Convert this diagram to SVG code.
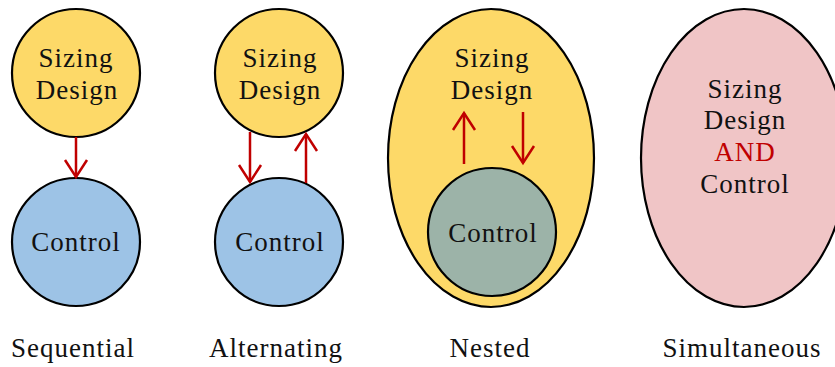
<svg xmlns="http://www.w3.org/2000/svg" width="835" height="367" viewBox="0 0 835 367">
<style>
.n{stroke:#000;stroke-width:2.2}
.y{fill:#FDD968}.b{fill:#9DC3E6}.g{fill:#9CB3A8}.p{fill:#F0C5C6}
.t{font-family:"Liberation Serif","Times New Roman",serif;font-size:27px;letter-spacing:1px;fill:#111;text-anchor:middle}
.r{fill:#C00000}
.a{stroke:#C00000;stroke-width:2.5;fill:none}
</style>
<defs>
<marker id="h" markerUnits="userSpaceOnUse" markerWidth="30" markerHeight="30" refX="18" refY="12" orient="auto" viewBox="0 0 30 24">
<path d="M1,1 L18,12 L1,23" fill="none" stroke="#C00000" stroke-width="2.5"/>
</marker>
</defs>
<g id="seq-sizing"><circle class="n y" cx="76" cy="73" r="64"/><text class="t" x="76" y="67">Sizing</text><text class="t" x="77" y="99">Design</text></g>
<g id="seq-control"><circle class="n b" cx="76" cy="242" r="64"/><text class="t" x="76" y="251">Control</text></g>
<g id="alt-sizing"><circle class="n y" cx="279" cy="73" r="64"/><text class="t" x="280" y="67">Sizing</text><text class="t" x="280" y="99">Design</text></g>
<g id="alt-control"><circle class="n b" cx="279" cy="242" r="64"/><text class="t" x="280" y="251">Control</text></g>
<g id="nested-sizing"><ellipse class="n y" cx="491" cy="158" rx="103" ry="149"/><text class="t" x="492" y="67">Sizing</text><text class="t" x="492" y="99">Design</text></g>
<g id="nested-control"><circle class="n g" cx="492" cy="232" r="64"/><text class="t" x="493" y="242">Control</text></g>
<g id="simultaneous"><ellipse class="n p" cx="744" cy="158" rx="103" ry="149"/><text class="t" x="745" y="98">Sizing</text><text class="t" x="745" y="129">Design</text><text class="t r" x="745" y="161">AND</text><text class="t" x="745" y="193">Control</text></g>
<g id="connectors">
<line class="a" x1="76" y1="137" x2="76" y2="177" marker-end="url(#h)"/>
<line class="a" x1="250" y1="132" x2="250" y2="182" marker-end="url(#h)"/>
<line class="a" x1="306" y1="183" x2="306" y2="134" marker-end="url(#h)"/>
<line class="a" x1="464" y1="164" x2="464" y2="113" marker-end="url(#h)"/>
<line class="a" x1="523" y1="112" x2="523" y2="163" marker-end="url(#h)"/>
</g>
<g id="labels">
<text class="t" x="73" y="357">Sequential</text>
<text class="t" x="276" y="357">Alternating</text>
<text class="t" x="490" y="357">Nested</text>
<text class="t" x="742" y="357">Simultaneous</text>
</g>
</svg>
